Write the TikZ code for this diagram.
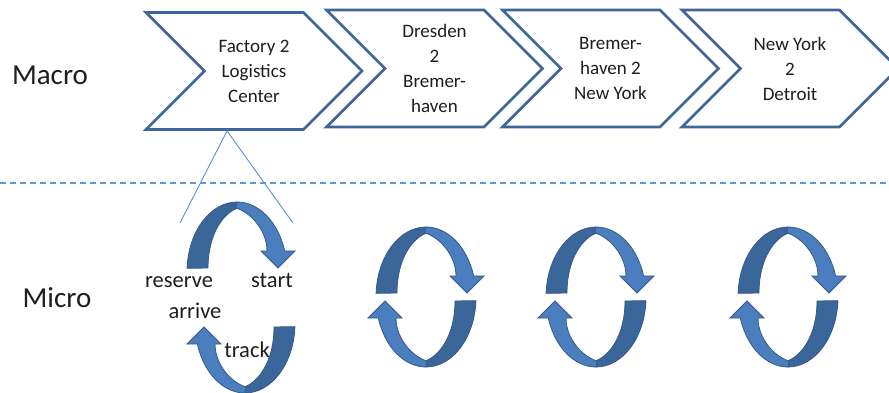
\documentclass[tikz,border=0pt]{standalone}
\usepackage{fontspec}
\setmainfont{Carlito}
\usetikzlibrary{shapes.symbols,calc}
\definecolor{chevblue}{HTML}{3F6698}
\definecolor{sepblue}{HTML}{5B9BD5}
\definecolor{fanblue}{HTML}{5B8FD0}
\definecolor{loopdark}{HTML}{3B6699}
\definecolor{looplight}{HTML}{4A7EBE}
\definecolor{loopedge}{HTML}{365B88}
\definecolor{txtdark}{HTML}{1E1E1E}

\tikzset{
  chev/.style={signal, signal from=west, signal to=east,
    signal pointer angle=90, draw=chevblue, line width=2.8pt,
    fill=white, minimum width=216pt, minimum height=117pt,
    inner sep=0pt, align=center, text=txtdark,
    font=\fontsize{19}{25}\selectfont},
  biglbl/.style={anchor=base, text=txtdark, font=\fontsize{29}{32}\selectfont},
  looplbl/.style={anchor=base, text=txtdark, font=\fontsize{22.5}{26}\selectfont},
  halfloop/.pic={
    % back side of the ribbon
    \filldraw[fill=loopdark, draw=loopedge, line width=0.8pt]
      (177:50 and 70) arc[start angle=177, end angle=90, x radius=50, y radius=70]
      -- (1,64) .. controls (-12,60) and (-29,40) .. (-29,4) -- cycle;
    % front side with head
    \filldraw[fill=looplight, draw=loopedge, line width=0.8pt]
      (0,70) arc[start angle=90, end angle=17.5, x radius=50, y radius=70]
      -- (58,21) -- (41,4) -- (24,21) -- (30,21)
      .. controls (30,42) and (13,60) .. (-1,64) -- cycle;
  }
}

\begin{document}
\begin{tikzpicture}[x=1pt,y=1pt]
%linee guida
%\foreach \x in {0,100,...,800}
%   \draw [help lines] (\x,0) -- (\x,392);
\useasboundingbox (0,0) rectangle (889,392);

%% macro level
\node[chev] (c1) at (254,321) {Factory 2\\Logistics\\Center};
\node[chev] (c2) at (434.5,323.5) {Dresden\\2\\Bremer-\\haven};
\node[chev] (c3) at (610.5,323.5) {Bremer-\\haven 2\\New York};
\node[chev] (c4) at (790,323.5) {New York\\2\\Detroit};

\node[biglbl] (lmacro) at (50,308) {Macro};
\node[biglbl] (lmicro) at (57,85) {Micro};

% separator
\coordinate (sepl) at (0,209);
\coordinate (sepr) at (889,209);
\draw[sepblue, line width=1.1pt, dash pattern=on 6pt off 4pt] (sepl) -- (sepr);

% zoom into first step
\coordinate (fan) at ([xshift=-27pt]c1.south);
\coordinate (fanl) at (180,169);
\coordinate (fanr) at (293,169);
\draw[fanblue, line width=0.9pt] (fanl) -- (fan) -- (fanr);

%% micro level
\pic at (237,120) {halfloop};
\pic[rotate=180] at (245,69) {halfloop};
\foreach \cx in {426,596,788} {
  \pic at (\cx,95) {halfloop};
  \pic[rotate=180] at (\cx,95) {halfloop};
}

\node[looplbl] (lreserve) at (179,105) {reserve};
\node[looplbl] (lstart) at (272,105) {start};
\node[looplbl] (larrive) at (195,74) {arrive};
\node[looplbl] (ltrack) at (247,35) {track};
\end{tikzpicture}
\end{document}
